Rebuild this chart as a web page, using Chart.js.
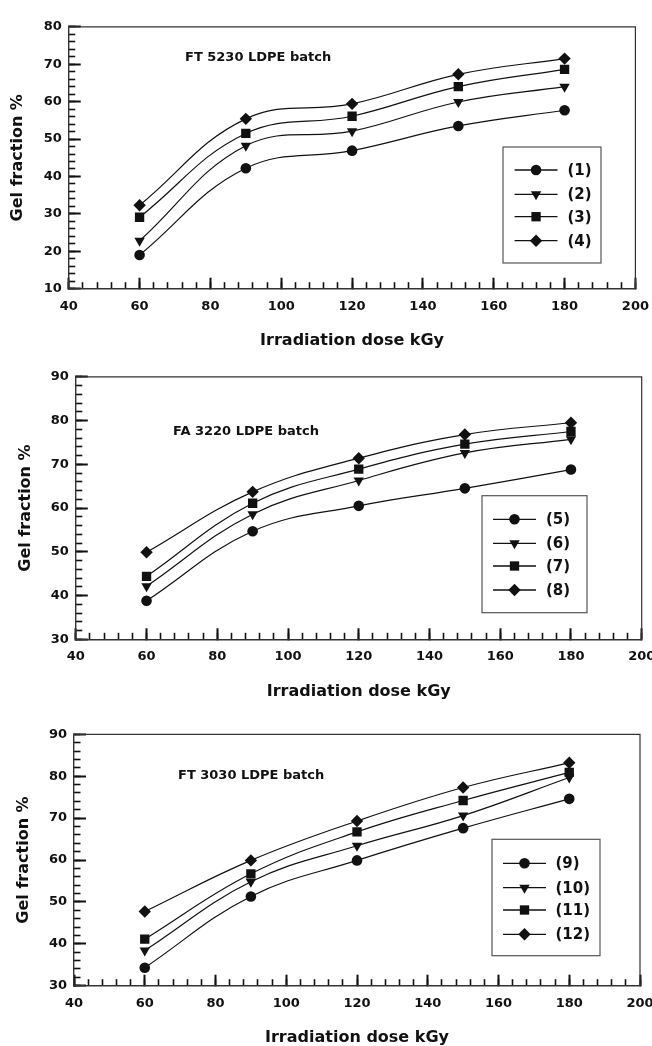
<!DOCTYPE html>
<html>
<head>
<meta charset="utf-8">
<script src="https://cdn.jsdelivr.net/npm/chart.js@4.4.1/dist/chart.umd.min.js"></script>
<style>
  html, body { margin: 0; padding: 0; background: #fff; width: 652px; height: 1046px; overflow: hidden; position: relative; }
  canvas { position: absolute; left: 0; }
</style>
</head>
<body>
<canvas id="c1" width="680" height="356" style="top:0px"></canvas>
<canvas id="c2" width="680" height="356" style="top:350px"></canvas>
<canvas id="c3" width="680" height="350" style="top:706px"></canvas>
<script>
// ---------- DATA ----------
const doses = [60, 90, 120, 150, 180];
const xTitle = 'Irradiation dose kGy';
const yTitle = 'Gel fraction %';
const batchNames = ['FT 5230 LDPE batch', 'FA 3220 LDPE batch', 'FT 3030 LDPE batch'];

const labels1 = ['(1)', '(2)', '(3)', '(4)'];
const labels2 = ['(5)', '(6)', '(7)', '(8)'];
const labels3 = ['(9)', '(10)', '(11)', '(12)'];

const s1 = [19.0, 42.2, 46.9, 53.5, 57.7];
const s2 = [22.8, 48.2, 52.1, 59.9, 64.0];
const s3 = [29.1, 51.5, 56.1, 64.0, 68.6];
const s4 = [32.3, 55.4, 59.4, 67.3, 71.5];

const s5 = [38.8, 54.7, 60.5, 64.5, 68.8];
const s6 = [42.1, 58.6, 66.3, 72.6, 75.7];
const s7 = [44.4, 61.1, 68.9, 74.6, 77.5];
const s8 = [49.9, 63.7, 71.4, 76.8, 79.5];

const s9  = [34.3, 51.3, 59.9, 67.6, 74.6];
const s10 = [38.4, 54.8, 63.4, 70.6, 79.7];
const s11 = [41.1, 56.7, 66.7, 74.2, 80.9];
const s12 = [47.7, 59.9, 69.3, 77.3, 83.2];

const xRange = [40, 200];
const yRange1 = [10, 80];
const yRange2 = [30, 90];
const yRange3 = [30, 90];

// ---------- STYLE ----------
const FONT = "'DejaVu Sans', 'Liberation Sans', Arial, sans-serif";
const INK = '#111';
Chart.defaults.font.family = FONT;
Chart.defaults.color = INK;

const markers = [
  { style: 'circle',   radius: 5.3, rotation: 0 },
  { style: 'triangle', radius: 6.0, rotation: 180 },
  { style: 'rect',     radius: 6.6, rotation: 0 },
  { style: 'rectRot',  radius: 6.2, rotation: 0 }
];

function makeDataset(label, values, k) {
  const m = markers[k];
  return {
    label: label,
    data: doses.map((d, i) => ({ x: d, y: values[i] })),
    borderColor: INK,
    backgroundColor: INK,
    borderWidth: 1.2,
    pointStyle: m.style,
    pointRadius: m.radius,
    pointRotation: m.rotation,
    pointBorderWidth: 0,
    pointBackgroundColor: INK,
    tension: 0.4,
    fill: false
  };
}

function drawMarker(ctx, m, x, y) {
  ctx.save();
  ctx.fillStyle = INK;
  ctx.strokeStyle = INK;
  if (Chart.helpers && Chart.helpers.drawPoint) {
    Chart.helpers.drawPoint(ctx, { pointStyle: m.style, rotation: m.rotation, radius: m.radius, borderWidth: 0 }, x, y);
  } else {
    ctx.beginPath(); ctx.arc(x, y, m.radius, 0, Math.PI * 2); ctx.fill();
  }
  ctx.restore();
}

const panelDecor = {
  id: 'panelDecor',
  afterDraw(chart, args, opts) {
    const ctx = chart.ctx;
    const a = chart.chartArea;
    ctx.save();
    // top and right frame lines
    ctx.strokeStyle = '#333';
    ctx.lineWidth = 1.2;
    ctx.beginPath();
    ctx.moveTo(a.left, a.top); ctx.lineTo(a.right, a.top); ctx.lineTo(a.right, a.bottom);
    ctx.stroke();
    // batch label
    ctx.fillStyle = INK;
    ctx.font = 'bold 13px ' + FONT;
    ctx.textBaseline = 'middle';
    ctx.textAlign = 'left';
    ctx.fillText(opts.batch, opts.batchX, opts.batchY);
    // legend box
    const L = opts.legend;
    ctx.fillStyle = '#fff';
    ctx.fillRect(L.x0, L.y0, L.x1 - L.x0, L.y1 - L.y0);
    ctx.strokeStyle = '#555';
    ctx.lineWidth = 1.2;
    ctx.strokeRect(L.x0, L.y0, L.x1 - L.x0, L.y1 - L.y0);
    chart.data.datasets.forEach((ds, i) => {
      const y = L.rows[i];
      ctx.strokeStyle = INK;
      ctx.lineWidth = 1.3;
      ctx.beginPath(); ctx.moveTo(L.lx0, y); ctx.lineTo(L.lx1, y); ctx.stroke();
      drawMarker(ctx, markers[i], (L.lx0 + L.lx1) / 2, y);
      ctx.fillStyle = INK;
      ctx.font = 'bold 15px ' + FONT;
      ctx.textAlign = 'left';
      ctx.textBaseline = 'middle';
      ctx.fillText(ds.label, L.tx, y + 1);
    });
    ctx.restore();
  }
};

function makeChart(id, labels, series, yRange, g, decor) {
  const lh = 16 * 1.2;
  const tickFont = { family: FONT, size: 13, weight: 'bold' };
  const titleFont = { family: FONT, size: 16, weight: 'bold' };
  return new Chart(document.getElementById(id), {
    type: 'line',
    data: { datasets: series.map((s, k) => makeDataset(labels[k], s, k)) },
    options: {
      responsive: false,
      animation: false,
      events: [],
      layout: { padding: { top: g.top, left: 0, right: 680 - g.right, bottom: 0 } },
      plugins: { legend: { display: false }, tooltip: { enabled: false }, panelDecor: decor },
      scales: {
        x: {
          type: 'linear', position: 'bottom', weight: 1,
          min: xRange[0], max: xRange[1],
          ticks: { stepSize: 20, font: tickFont, color: INK, padding: 21, maxRotation: 0, autoSkip: false },
          grid: { drawOnChartArea: false, drawTicks: true, tickLength: -11, tickWidth: 2, tickColor: INK },
          border: { display: true, color: '#333', width: 1.4 },
          title: { display: true, text: xTitle, font: titleFont, color: INK, padding: { top: 0, bottom: g.h - g.xTitleY - lh / 2 } },
          afterFit(s) { s.height = g.h - g.bottom; }
        },
        xMinor: {
          type: 'linear', position: 'bottom', weight: 0,
          min: xRange[0], max: xRange[1],
          ticks: { display: false, stepSize: 4 },
          grid: { drawOnChartArea: false, drawTicks: true, tickLength: -6.5, tickWidth: 1.6, tickColor: INK },
          border: { display: false },
          afterFit(s) { s.height = 0; }
        },
        y: {
          type: 'linear', position: 'left', weight: 1,
          min: yRange[0], max: yRange[1],
          ticks: { stepSize: 10, font: tickFont, color: INK, padding: 19, autoSkip: false },
          grid: { drawOnChartArea: false, drawTicks: true, tickLength: -12, tickWidth: 2, tickColor: INK },
          border: { display: true, color: '#333', width: 1.4 },
          title: { display: true, text: yTitle, font: titleFont, color: INK, padding: { top: g.yTitleX - lh / 2, bottom: 0 } },
          afterFit(s) { s.width = g.left; }
        },
        yMinor: {
          type: 'linear', position: 'left', weight: 0,
          min: yRange[0], max: yRange[1],
          ticks: { display: false, stepSize: 2 },
          grid: { drawOnChartArea: false, drawTicks: true, tickLength: -6.5, tickWidth: 1.6, tickColor: INK },
          border: { display: false },
          afterFit(s) { s.width = 0; }
        }
      }
    },
    plugins: [panelDecor]
  });
}

makeChart('c1', labels1, [s1, s2, s3, s4], yRange1,
  { h: 356, top: 18.3, left: 68.75, right: 635.4, bottom: 288.7, yTitleX: 17.5, xTitleY: 340.7 },
  { batch: batchNames[0], batchX: 185, batchY: 58,
    legend: { x0: 503, y0: 147, x1: 601, y1: 263, rows: [170, 194.3, 216.7, 240.7], lx0: 514.6, lx1: 557.5, tx: 567.5 } });

makeChart('c2', labels2, [s5, s6, s7, s8], yRange2,
  { h: 356, top: 24, left: 75.8, right: 641.7, bottom: 289.3, yTitleX: 26, xTitleY: 341.7 },
  { batch: batchNames[1], batchX: 173, batchY: 81.7,
    legend: { x0: 482, y0: 145.7, x1: 587, y1: 262.7, rows: [169.3, 193.3, 216, 240], lx0: 493, lx1: 536, tx: 546 } });

makeChart('c3', labels3, [s9, s10, s11, s12], yRange3,
  { h: 350, top: 28.3, left: 74, right: 640, bottom: 279.7, yTitleX: 24, xTitleY: 332.3 },
  { batch: batchNames[2], batchX: 178, batchY: 70,
    legend: { x0: 492, y0: 133.3, x1: 600, y1: 249.7, rows: [157.3, 181.7, 204, 228.3], lx0: 503, lx1: 546, tx: 555.5 } });
</script>
</body>
</html>
